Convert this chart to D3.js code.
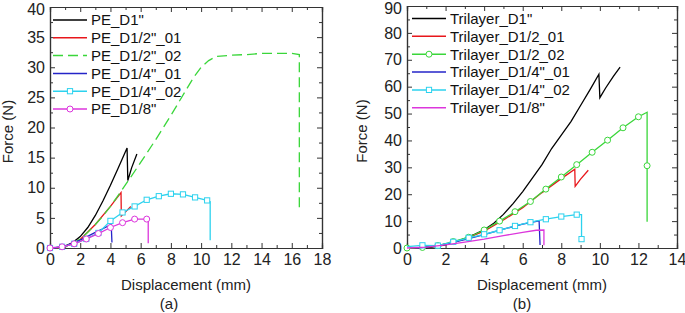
<!DOCTYPE html>
<html>
<head>
<meta charset="utf-8">
<script src="https://cdn.jsdelivr.net/npm/d3@7"></script>
<style>
body { margin: 0; background: #fff; }
svg { display: block; font-family: "Liberation Sans", Arial, sans-serif; }
.axis text { font-size: 16px; fill: #222; }
.axis path, .axis line { stroke: #333; }
</style>
</head>
<body>
<script>
// series colours (Origin-like)
const colors = ["#000000", "#e8161b", "#3ad63a", "#2424c8", "#2cd2ee", "#dc36dc"];

// (a) PE samples: [displacement mm, force N, marker?]
const peNames = ["PE_D1\"", "PE_D1/2\"_01", "PE_D1/2\"_02", "PE_D1/4\"_01", "PE_D1/4\"_02", "PE_D1/8\""];
const peD1 = [[0.3,0],[1,0.3],[1.5,0.9],[2,1.9],[2.5,3.4],[3,5.4],[3.5,7.8],[4,10.4],[4.5,13.2],[5.1,16.6],[5.15,11.2],[5.4,13.3],[5.75,15.6]];
const peD12a = [[0.4,0],[1,0.2],[2,1.4],[3,3.9],[4,6.9],[4.7,9.2],[4.72,5.3],[5,6.0],[5.35,6.9]];
const peD12b = [[0.5,0],[1,0.2],[1.5,0.7],[2,1.5],[2.5,2.6],[3,3.9],[3.5,5.3],[4,6.9],[5,10.5],[6,14.2],[7,18],[8,22],[9,26.2],[9.5,28.3],[10,30.0],[10.5,31.1],[11,31.8],[12,32.0],[13,32.1],[14,32.3],[15,32.3],[16,32.3],[16.5,32.1],[16.5,22.1],[16.5,6.2]];
const peD14a = [[0.3,0],[1,0.3],[2,1.3],[3,2.6],[3.5,3.2],[4.05,3.9],[4.1,0.9]];
const peD14b = [[0,0,1],[0.8,0.2,1],[1.6,0.7,1],[2.4,1.5,1],[3.2,2.5,1],[4,4.5,1],[4.8,5.9,1],[5.6,6.9,1],[6.4,8.0,1],[7.2,8.6,1],[8,9.0,1],[8.8,8.9,1],[9.6,8.4,1],[10.4,7.9,1],[10.6,7.7],[10.6,1.3]];
const peD18 = [[0,0,1],[0.8,0.2,1],[1.6,0.7,1],[2.4,1.5,1],[3.2,2.4,1],[4,3.4,1],[4.8,4.2,1],[5.6,4.8,1],[6.4,4.8,1],[6.5,4.7],[6.5,0.8]];

// (b) Trilayer samples
const triNames = ["Trilayer_D1\"", "Trilayer_D1/2_01", "Trilayer_D1/2_02", "Trilayer_D1/4\"_01", "Trilayer_D1/4\"_02", "Trilayer_D1/8\""];
const triD1 = [[0.8,0],[1.5,0.5],[2,1.2],[2.5,2.3],[3,3.6],[3.5,5.1],[4,6.8],[4.5,9.2],[5,12.5],[5.5,16.5],[6,21],[6.5,26],[7,31],[7.5,37],[8,42],[8.5,47],[9,53],[9.5,59],[9.95,64.6],[10.0,55.9],[10.3,59.5],[10.7,63.8],[11.05,67.3]];
const triD12a = [[0.5,0],[1,0.2],[2,1.4],[3,3.4],[4,6.3],[5,10.4],[6,15],[7,20.6],[8,25.8],[8.7,29.3],[8.72,22.9],[9,25.6],[9.4,28.9]];
const triD12b = [[0,0,1],[0.8,0.2,1],[1.6,0.9,1],[2.4,2.4,1],[3.2,4.0,1],[4,6.7,1],[4.8,10,1],[5.6,13.5,1],[6.4,17.3,1],[7.2,21.9,1],[8,26.4,1],[8.8,31,1],[9.6,35.6,1],[10.4,40.1,1],[11.2,44.7,1],[12,48.8,1],[12.45,50.5],[12.45,30.6,1],[12.45,9.8]];
const triD14a = [[0.5,0],[1,0.3],[2,1.4],[3,3.1],[4,5.0],[5,7.0],[6,8.9],[6.85,10.1],[6.9,1.1]];
const triD14b = [[0,0.5],[0.8,1.0,1],[1.6,0.9,1],[2.4,2.3,1],[3.2,3.8,1],[4,5.1,1],[4.8,6.6,1],[5.6,8.2,1],[6.4,9.6,1],[7.2,10.7,1],[8,11.7,1],[8.8,12.4,1],[9.05,12.4],[9.05,3.3,1]];
const triD18 = [[0,0],[1,0.3],[2,1.2],[3,2.2],[4,3.3],[5,4.6],[6,5.8],[6.7,6.6],[7.1,6.7],[7.1,1.0]];

const W = 685, H = 313;
const svg = d3.select("body").append("svg").attr("width", W).attr("height", H);

function panel(cfg) {
	const x = d3.scaleLinear().domain(cfg.xDomain).range([cfg.left, cfg.right]);
	const y = d3.scaleLinear().domain(cfg.yDomain).range([cfg.bottom, cfg.top]);
	const g = svg.append("g");

	const majX = d3.range(cfg.xDomain[0], cfg.xDomain[1] + 0.001, cfg.xStep);
	const minX = d3.range(cfg.xDomain[0] + cfg.xStep / 2, cfg.xDomain[1], cfg.xStep);
	const majY = d3.range(cfg.yDomain[0], cfg.yDomain[1] + 0.001, cfg.yStep);
	const minY = d3.range(cfg.yDomain[0] + cfg.yStep / 2, cfg.yDomain[1], cfg.yStep);

	// axes, ticks pointing inward
	const axes = [
		[d3.axisBottom(x).tickValues(majX).tickSize(-5).tickPadding(6), "translate(0," + cfg.bottom + ")"],
		[d3.axisBottom(x).tickValues(minX).tickSize(-3).tickFormat(""), "translate(0," + cfg.bottom + ")"],
		[d3.axisTop(x).tickValues(majX).tickSize(-5).tickFormat(""), "translate(0," + cfg.top + ")"],
		[d3.axisTop(x).tickValues(minX).tickSize(-3).tickFormat(""), "translate(0," + cfg.top + ")"],
		[d3.axisLeft(y).tickValues(majY).tickSize(-5).tickPadding(5), "translate(" + cfg.left + ",0)"],
		[d3.axisLeft(y).tickValues(minY).tickSize(-3).tickFormat(""), "translate(" + cfg.left + ",0)"],
		[d3.axisRight(y).tickValues(majY).tickSize(-5).tickFormat(""), "translate(" + cfg.right + ",0)"],
		[d3.axisRight(y).tickValues(minY).tickSize(-3).tickFormat(""), "translate(" + cfg.right + ",0)"]
	];
	axes.forEach(a => {
		g.append("g").attr("class", "axis").attr("transform", a[1]).call(a[0])
			.call(s => s.select(".domain").attr("stroke-width", 1.2));
	});
	// keep the top y label inside the picture
	g.selectAll(".axis text").filter(d => d === cfg.yDomain[1]).attr("dy", "0.45em");

	const line = d3.line().x(d => x(d[0])).y(d => y(d[1]));

	cfg.series.forEach((s, i) => {
		g.append("path").datum(s.data)
			.attr("d", line)
			.attr("fill", "none")
			.attr("stroke", colors[i])
			.attr("stroke-width", 1.3)
			.attr("stroke-dasharray", s.dash || null);
		if (s.marker) {
			drawMarkers(g, s.data.filter(d => d[2]).map(d => [x(d[0]), y(d[1])]), s.marker, colors[i]);
		}
	});

	// legend
	cfg.series.forEach((s, i) => {
		const ly = cfg.legY + i * cfg.legDy;
		g.append("line")
			.attr("x1", cfg.legX).attr("x2", cfg.legX + 34)
			.attr("y1", ly).attr("y2", ly)
			.attr("stroke", colors[i]).attr("stroke-width", 1.5)
			.attr("stroke-dasharray", s.dash || null);
		if (s.marker) drawMarkers(g, [[cfg.legX + 17, ly]], s.marker, colors[i]);
		g.append("text")
			.attr("x", cfg.legX + 38).attr("y", ly + 5.3)
			.attr("font-size", 15).attr("fill", "#111")
			.text(cfg.names[i]);
	});

	g.append("text")
		.attr("x", (cfg.left + cfg.right) / 2).attr("y", 290)
		.attr("text-anchor", "middle").attr("font-size", 15).attr("fill", "#222")
		.text("Displacement (mm)");
	g.append("text")
		.attr("x", cfg.tagX).attr("y", 309)
		.attr("text-anchor", "middle").attr("font-size", 15).attr("fill", "#222")
		.text(cfg.tag);
	g.append("text")
		.attr("transform", "translate(" + cfg.yLabX + "," + ((cfg.top + cfg.bottom) / 2 + 4) + ") rotate(-90)")
		.attr("text-anchor", "middle").attr("font-size", 15).attr("fill", "#222")
		.text("Force (N)");
}

function drawMarkers(g, pts, type, color) {
	pts.forEach(p => {
		if (type === "square") {
			g.append("rect").attr("x", p[0] - 2.6).attr("y", p[1] - 2.6)
				.attr("width", 5.2).attr("height", 5.2)
				.attr("fill", "#fff").attr("stroke", color).attr("stroke-width", 1);
		} else {
			g.append("circle").attr("cx", p[0]).attr("cy", p[1]).attr("r", 3)
				.attr("fill", "#fff").attr("stroke", color).attr("stroke-width", 1);
		}
	});
}

panel({
	left: 50, right: 322, top: 7, bottom: 248,
	xDomain: [0, 18], xStep: 2, yDomain: [0, 40], yStep: 5,
	legX: 53, legY: 20, legDy: 17.8, names: peNames,
	tag: "(a)", tagX: 169, yLabX: 13,
	series: [
		{ data: peD1 },
		{ data: peD12a },
		{ data: peD12b, dash: "10,5" },
		{ data: peD14a },
		{ data: peD14b, marker: "square" },
		{ data: peD18, marker: "circle" }
	]
});

panel({
	left: 407, right: 677, top: 6, bottom: 248,
	xDomain: [0, 14], xStep: 2, yDomain: [0, 90], yStep: 10,
	legX: 412, legY: 18.5, legDy: 17.85, names: triNames,
	tag: "(b)", tagX: 522, yLabX: 367,
	series: [
		{ data: triD1 },
		{ data: triD12a },
		{ data: triD12b, marker: "circle" },
		{ data: triD14a },
		{ data: triD14b, marker: "square" },
		{ data: triD18 }
	]
});
</script>
</body>
</html>
